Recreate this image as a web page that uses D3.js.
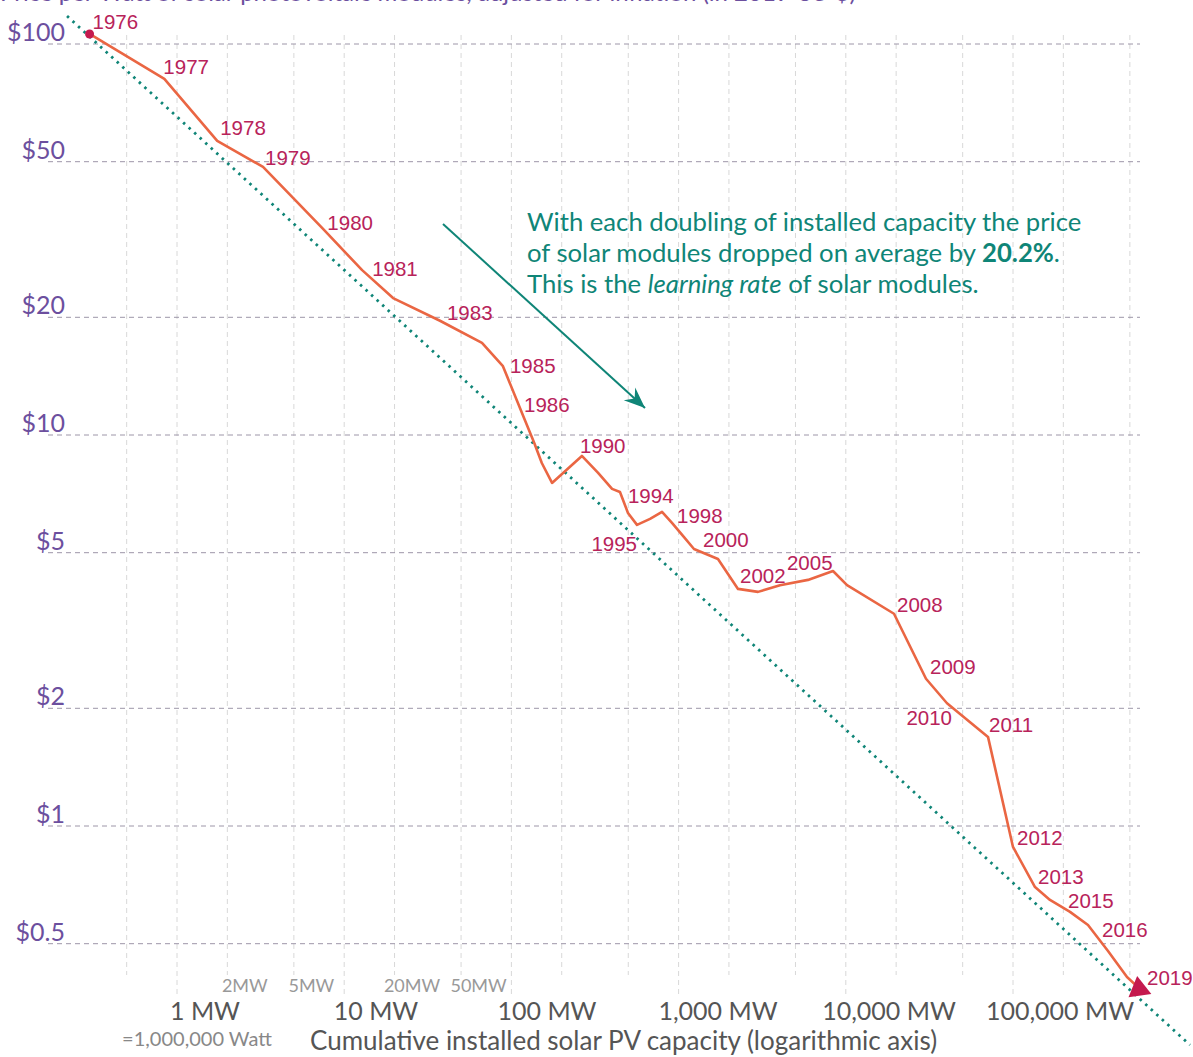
<!DOCTYPE html>
<html>
<head>
<meta charset="utf-8">
<script src="https://cdn.jsdelivr.net/npm/d3@7"></script>
<style>
  html, body { margin: 0; padding: 0; background: #fff; }
  svg { display: block; }
</style>
</head>
<body>
<svg id="chart" width="1193" height="1057"></svg>
<script>
// ---------------- DATA ----------------
const years = [1976,1977,1978,1979,1980,1981,1982,1983,1984,1985,1986,1987,1988,1989,1990,
  1991,1992,1993,1994,1995,1996,1997,1998,1999,2000,2001,2002,2003,2004,2005,2006,2007,
  2008,2009,2010,2011,2012,2013,2014,2015,2016,2017,2018,2019];
const capacityMW = [0.3,0.84,1.74,3.27,7.4,12.8,19.6,37.4,66.7,89,119,137,152,175,264,
  330,400,446,498,564,675,796,913,1062,1236,1720,2266,2985,4041,5940,8383,10170,
  19420,30180,40300,70880,100000,135400,166400,219300,280900,370000,480600,567000];
const priceUSD = [106.1,81.4,56.5,48.5,33.8,26.4,22.4,19.6,17.2,15.0,11.05,9.54,8.48,7.54,8.84,
  8.0,7.28,7.15,6.32,5.89,6.10,6.36,5.96,5.52,5.11,4.82,4.04,3.97,4.13,4.26,4.49,4.13,
  3.49,2.38,2.06,1.69,0.884,0.698,0.647,0.603,0.558,0.479,0.411,0.385];
const labeledYears = [1976,1977,1978,1979,1980,1981,1983,1985,1986,1990,1994,1995,1998,2000,
  2002,2005,2008,2009,2010,2011,2012,2013,2015,2016,2019];

// learning-curve trend line (two end points)
const trendCapacityMW = [0.22, 1144000];
const trendPriceUSD = [117.9, 0.2754];

// tick values and labels
const priceTicks = [100, 50, 20, 10, 5, 2, 1, 0.5];
const priceTickLabels = ["$100","$50","$20","$10","$5","$2","$1","$0.5"];
const capGridTicks = [0.5,1,2,5,10,20,50,100,200,500,1000,2000,5000,10000,20000,50000,
  100000,200000,500000];
const capMajorTicks = [1,10,100,1000,10000,100000];
const capMajorLabels = ["1 MW","10 MW","100 MW","1,000 MW","10,000 MW","100,000 MW"];
const capMinorTicks = [2,5,20,50];
const capMinorLabels = ["2MW","5MW","20MW","50MW"];

// label placement nudges (relative to the point)
const labelNudge = {
  1976:[3,-12], 1977:[-1,-12], 1978:[3,-13], 1979:[2,-9], 1980:[5,-5], 1981:[10,-1],
  1983:[7,-8], 1985:[7,0], 1986:[0,-13], 1990:[-2,-10], 1994:[0,-17], 1995:[0,19,"end"],
  1998:[5,-7], 2000:[9,-9], 2002:[2,-13], 2005:[-21,-17], 2008:[3,-9], 2009:[4,-12],
  2010:[5,15,"end"], 2011:[1,-12], 2012:[4,-9], 2013:[3,-10], 2015:[-2,-11],
  2016:[14,5], 2019:[8,-10]
};

// ---------------- CHART ----------------
const svg = d3.select("#chart");
const x = d3.scaleLog().domain([1, 100000]).range([177, 1013]);
const y = d3.scaleLog().domain([1, 100]).range([826, 44]);
const xLabel = d3.scaleLog().domain([1, 100000]).range([205, 1060]);

const purple = "#6c4f9e", teal = "#0f8577", crimson = "#b8235a", orange = "#ea6643";
const lato = "Lato, 'Open Sans', sans-serif";

// cut-off subtitle at the very top (cropped in the reference as well)
svg.append("text").attr("x", 0).attr("y", 1)
  .attr("font-family", lato).attr("font-size", 24).attr("fill", purple)
  .text("Price per Watt of solar photovoltaic modules, adjusted for inflation (in 2019 US-$)");

// vertical gridlines
svg.append("g").selectAll("line").data(capGridTicks).join("line")
  .attr("x1", d => x(d)).attr("x2", d => x(d))
  .attr("y1", 35)
  .attr("y2", d => capMajorTicks.includes(d) ? 998 : 975)
  .attr("stroke", "#d8d8d8").attr("stroke-width", 1).attr("stroke-dasharray", "5,4");

// horizontal gridlines
svg.append("g").selectAll("line").data(priceTicks).join("line")
  .attr("x1", 48).attr("x2", 1140)
  .attr("y1", d => y(d)).attr("y2", d => y(d))
  .attr("stroke", "#9d96a8").attr("stroke-width", 1).attr("stroke-dasharray", "5,4");

// y labels
svg.append("g").selectAll("text").data(priceTicks).join("text")
  .attr("x", 65).attr("y", d => y(d) - 3)
  .attr("text-anchor", "end")
  .attr("font-family", lato).attr("font-size", 25).attr("fill", purple)
  .text((d, i) => priceTickLabels[i]);

// x labels
svg.append("g").selectAll("text").data(capMajorTicks).join("text")
  .attr("x", d => xLabel(d)).attr("y", 1020)
  .attr("text-anchor", "middle")
  .attr("font-family", lato).attr("font-size", 25).attr("fill", "#555")
  .text((d, i) => capMajorLabels[i]);
svg.append("g").selectAll("text").data(capMinorTicks).join("text")
  .attr("x", d => x(d) + 17.5).attr("y", 992)
  .attr("text-anchor", "middle")
  .attr("font-family", lato).attr("font-size", 18).attr("fill", "#999")
  .text((d, i) => capMinorLabels[i]);
svg.append("text").attr("x", 197).attr("y", 1046).attr("text-anchor", "middle")
  .attr("font-family", lato).attr("font-size", 20).attr("fill", "#888")
  .text("=1,000,000 Watt");
svg.append("text").attr("x", 310).attr("y", 1050)
  .attr("font-family", lato).attr("font-size", 26).attr("fill", "#555")
  .text("Cumulative installed solar PV capacity (logarithmic axis)");

// trend line
const trend = trendCapacityMW.map((c, i) => [c, trendPriceUSD[i]]);
svg.append("path").datum(trend)
  .attr("d", d3.line().x(d => x(d[0])).y(d => y(d[1])))
  .attr("fill", "none").attr("stroke", teal).attr("stroke-width", 2.8)
  .attr("stroke-dasharray", "2.5,5");

// price line
const pts = years.map((yr, i) => ({ year: yr, cap: capacityMW[i], price: priceUSD[i] }));
svg.append("path").datum(pts)
  .attr("d", d3.line().x(d => x(d.cap)).y(d => y(d.price)))
  .attr("fill", "none").attr("stroke", orange).attr("stroke-width", 2.6)
  .attr("stroke-linejoin", "round");

// start dot and end triangle
const first = pts[0], last = pts[pts.length - 1];
svg.append("circle").attr("cx", x(first.cap)).attr("cy", y(first.price)).attr("r", 4.5)
  .attr("fill", "#c41a4e");
svg.append("path")
  .attr("d", d3.symbol().type(d3.symbolTriangle).size(230)())
  .attr("transform", `translate(${x(last.cap)},${y(last.price) + 1}) rotate(-8)`)
  .attr("fill", "#c41a4e");

// year labels
svg.append("g").selectAll("text").data(pts.filter(d => labeledYears.includes(d.year))).join("text")
  .attr("x", d => x(d.cap) + labelNudge[d.year][0])
  .attr("y", d => y(d.price) + labelNudge[d.year][1] + 7)
  .attr("text-anchor", d => labelNudge[d.year][2] || "start")
  .attr("font-family", "'Liberation Sans', Arial, sans-serif").attr("font-size", 20.5)
  .attr("fill", crimson)
  .text(d => d.year);

// annotation arrow
const defs = svg.append("defs");
defs.append("marker").attr("id", "arrowhead")
  .attr("viewBox", "-22 -10 24 20").attr("refX", 0).attr("refY", 0)
  .attr("markerWidth", 24).attr("markerHeight", 20).attr("markerUnits", "userSpaceOnUse")
  .attr("orient", "auto")
  .append("path").attr("d", "M0,0 L-21,-8.5 L-14,0 L-21,8.5 Z").attr("fill", teal);
svg.append("line").attr("x1", 443).attr("y1", 224).attr("x2", 645).attr("y2", 408)
  .attr("stroke", teal).attr("stroke-width", 2).attr("marker-end", "url(#arrowhead)");

// annotation text
const ann = svg.append("text").attr("font-family", lato).attr("font-size", 25.7).attr("fill", teal);
ann.append("tspan").attr("x", 527).attr("y", 231).text("With each doubling of installed capacity the price");
const l2 = ann.append("tspan").attr("x", 527).attr("y", 262);
l2.append("tspan").text("of solar modules dropped on average by ");
l2.append("tspan").attr("font-weight", "bold").text("20.2%");
l2.append("tspan").text(".");
const l3 = ann.append("tspan").attr("x", 527).attr("y", 293);
l3.append("tspan").text("This is the ");
l3.append("tspan").attr("font-style", "italic").text("learning rate");
l3.append("tspan").text(" of solar modules.");
</script>
</body>
</html>
